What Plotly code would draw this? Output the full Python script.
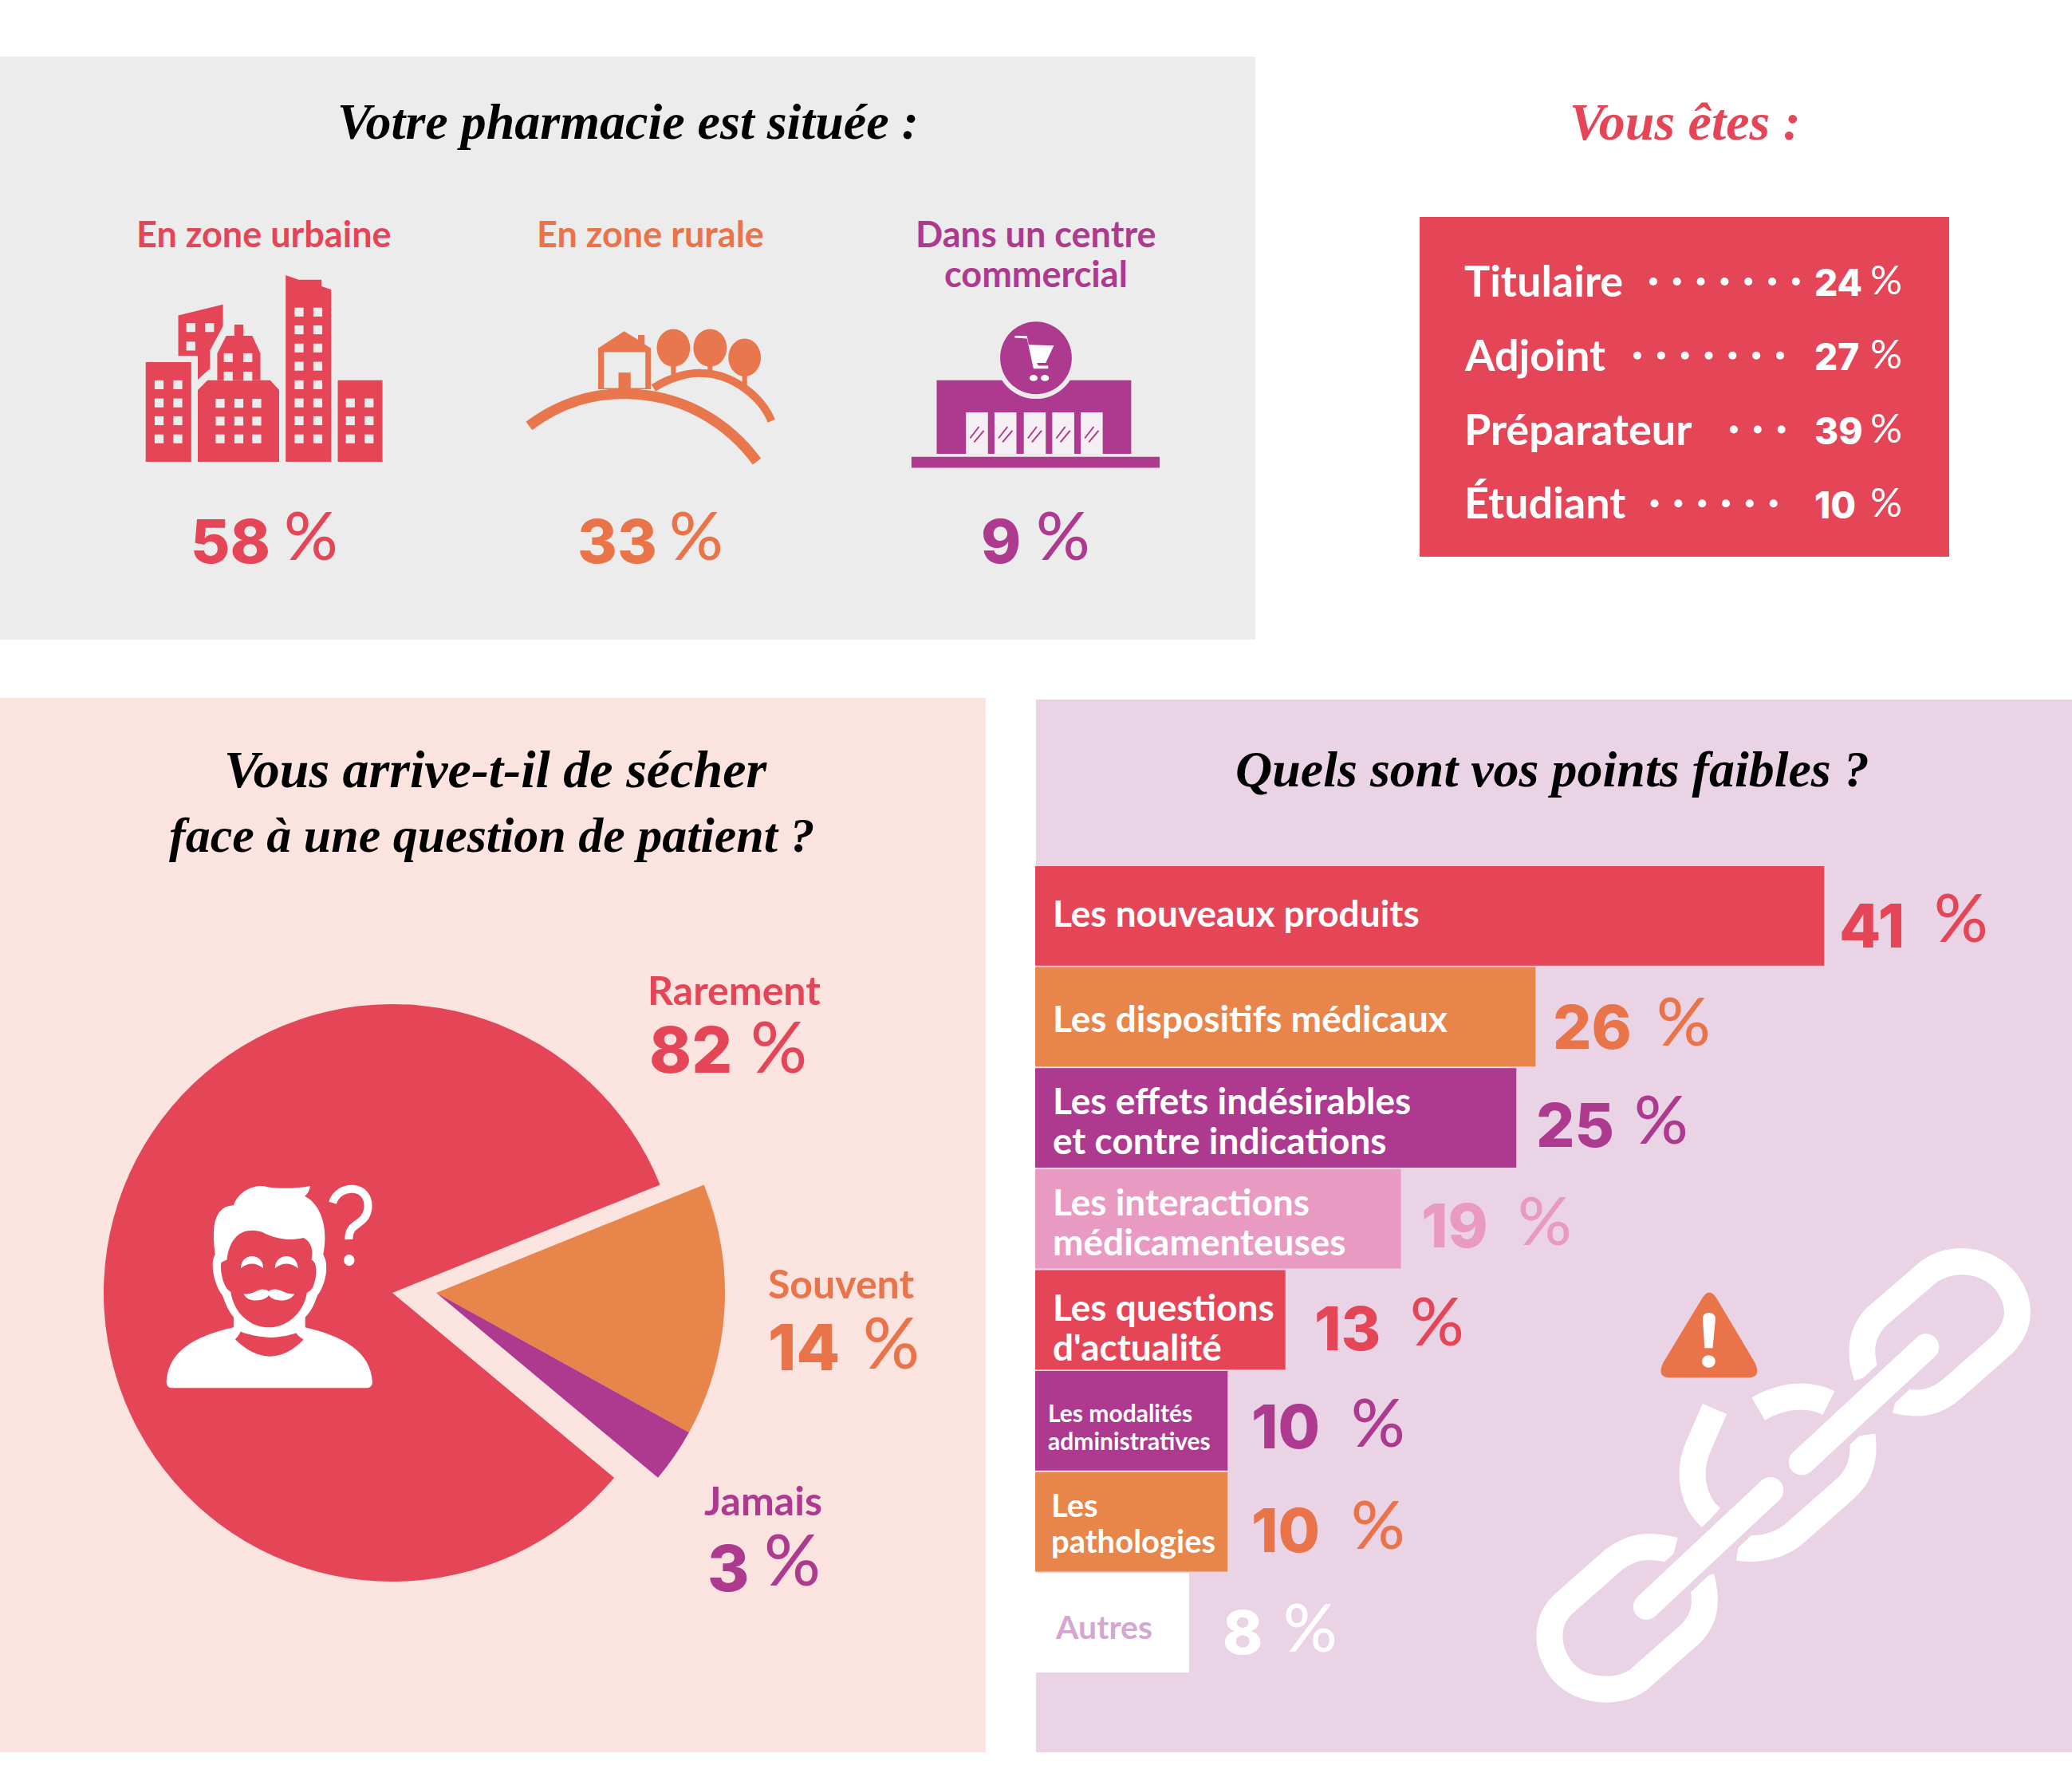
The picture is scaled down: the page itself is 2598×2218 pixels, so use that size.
import plotly.graph_objects as go

# --- data
location_names = ["En zone urbaine", "En zone rurale", "Dans un centre<br>commercial"]
location_values = [58, 33, 9]

role_names = ["Titulaire", "Adjoint", "Préparateur", "Étudiant"]
role_values = [24, 27, 39, 10]

dry_names = ["Souvent", "Jamais", "Rarement"]
dry_values = [14, 3, 82]

weak_names = ["Les nouveaux produits", "Les dispositifs médicaux",
              "Les effets indésirables<br>et contre indications",
              "Les interactions<br>médicamenteuses", "Les questions<br>d'actualité",
              "Les modalités<br>administratives", "Les<br>pathologies", "Autres"]
weak_values = [41, 26, 25, 19, 13, 10, 10, 8]

# --- colours
RED = "#e44658"
ORANGE = "#e8854b"
ORANGE_TXT = "#e9744a"
PURPLE = "#ad3a8e"
PINK = "#e89ac3"
GREY = "#ececec"
ROSE = "#fbe3df"
LILAC = "#e9d3e5"
LABEL = "Lato"
NUMBER = "Inter"
SCRIPT = "Liberation Serif"
W, H = 2598, 2218
S = 1.657  # coordinates below were measured on a 1568 px wide copy

weak_colors = [RED, ORANGE, PURPLE, PINK, RED, PURPLE, ORANGE, "white"]
weak_text = [RED, ORANGE_TXT, PURPLE, PINK, RED, PURPLE, ORANGE_TXT, "white"]
weak_label_color = ["white"] * 7 + ["#d3a7cf"]
weak_label_size = [46, 46, 46, 46, 46, 30, 40, 41]
weak_label_shift = [20, 20, 20, 20, 20, 14, 18, 23]
weak_label_dy = [2, -1, -2, -2, -5, -4, -1, -3]
weak_line_gap = [0, 0, 50, 50, 50, 35, 45, 0]
weak_gap = [10, 12, 14, 14, 21, 17, 17, 24]
weak_num_dy = [-7, -7, -5, -5, -6, -4, -6, -7]
weak_pct_gap = [82, 90, 88, 87, 93, 92, 92, 70]
weak_pct_dy = [0, -2, 0, 0, 0, 0, -1, -2]

fig = go.Figure()
shapes = []
notes = []


def rect(x0, y0, x1, y1, color, layer="above"):
    shapes.append(dict(type="rect", xref="x", yref="y", x0=x0, y0=y0, x1=x1, y1=y1,
                       fillcolor=color, line_width=0, layer=layer))


def oval(x0, y0, x1, y1, color):
    shapes.append(dict(type="circle", xref="x", yref="y", x0=x0, y0=y0, x1=x1, y1=y1,
                       fillcolor=color, line_width=0, layer="above"))


def fill(d, color):
    shapes.append(dict(type="path", xref="x", yref="y", path=d, fillcolor=color,
                       line_width=0, layer="above"))


def stroke(d, color, width):
    shapes.append(dict(type="path", xref="x", yref="y", path=d, fillcolor="rgba(0,0,0,0)",
                       line=dict(color=color, width=width), layer="above"))


def note(x, y, text, color, size, weight=700, anchor="left", family=LABEL, style="normal"):
    # left aligned text sits a little right of the measured edge because of side bearings
    x = x - 3.5 if anchor == "left" else x
    notes.append(dict(xref="x", yref="y", x=x, y=y - 1.5, text=text, showarrow=False,
                      xanchor=anchor, yanchor="middle",
                      font=dict(family=family, size=size, color=color, weight=weight, style=style)))


def path_in(points, fx, fy):
    # points is a list of SVG tokens and numbers, measured on a zoomed crop
    out, is_x = [], True
    for p in points.split():
        if p.isalpha():
            out.append(p)
            is_x = True
        else:
            out.append(f"{fx(float(p)) if is_x else fy(float(p)):.1f}")
            is_x = not is_x
    return " ".join(out)


def pct(x_num, x_pct, y_num, y_pct, value, color, num_size=76, pct_size=84):
    note(x_num * S, y_num * S, str(value), color, num_size, 800, family=NUMBER)
    note(x_pct * S, y_pct * S, "%", color, pct_size, 500)


def title(x, y, text, size, color="black"):
    note(x * S, y * S, text, color, size, 700, "center", SCRIPT, "italic")


# --- panels
rect(0, 71, 1574, 802, GREY, "below")
rect(0, 875, 1236, 2197, ROSE, "below")
rect(1299, 877, 2598, 2197, LILAC, "below")
rect(1780, 272, 2444, 698, RED, "below")

# --- titles
title(475, 93, "Votre pharmacie est située :", 64)
title(1275, 93, "Vous êtes :", 66, RED)
title(375, 583, "Vous arrive-t-il de sécher", 66)
title(372, 633, "face à une question de patient ?", 62)
title(1175, 583, "Quels sont vos points faibles ?", 64)

# --- location block
loc_colors = [RED, ORANGE_TXT, PURPLE]
loc_center = [200, 492, 784]
loc_num_x = [145, 438, 743]
loc_pct_x = [216, 507, 785]
for name, val, c, cx, nx, px in zip(location_names, location_values, loc_colors, loc_center, loc_num_x, loc_pct_x):
    for i, line in enumerate(name.split("<br>")):
        note(cx * S, (178 + 30 * i) * S, line, c, 45, 700, "center")
    pct(nx, px, 410, 405, val, c)

# city icon
zx1 = lambda v: v * 1.0204
zy1 = lambda v: 60 + v * 0.4847


def z1(d, color):
    fill(path_in(d, zx1, zy1), color)


def z1rect(x0, y0, x1, y1, color):
    rect(zx1(x0), zy1(y0), zx1(x1), zy1(y1), color)


z1("M 179 813 L 235 813 L 235 1071 L 179 1071 Z", RED)
z1("M 243 885 L 255 860 L 332 860 L 343 885 L 343 1071 L 243 1071 Z", RED)
z1("M 267 860 L 267 790 L 278 745 L 288 745 L 288 716 L 299 716 L 299 745 L 310 745 L 320 790 L 320 860 Z", RED)
z1("M 219 692 L 274 664 L 274 720 L 258 783 L 258 830 L 243 858 L 243 797 L 219 797 Z", RED)
z1("M 351 588 L 367 600 L 395 600 L 395 617 L 407 625 L 407 1071 L 351 1071 Z", RED)
z1("M 415 860 L 470 860 L 470 1071 L 415 1071 Z", RED)
city_windows = [([190, 213], [860, 907, 953, 1000]), ([265, 288, 310], [908, 954, 1000]),
                ([275, 299], [790, 838]), ([229, 252], [712]), ([229], [760]),
                ([362, 385], [672, 718, 765, 812, 860, 907, 953, 1000]), ([425, 448], [907, 953, 1000])]
for cols, rows in city_windows:
    for cx in cols:
        for ry in rows:
            z1rect(cx, ry, cx + 11, ry + 23, GREY)

# countryside icon
HILL = "#e9774d"
stroke(path_in("M 803 880 C 825 850 850 838 865 842 C 900 845 935 900 948 965", zx1, zy1), HILL, 10)
stroke(path_in("M 650 978 C 690 915 730 893 770 895 C 840 897 895 970 930 1070", zx1, zy1), HILL, 13)
z1("M 735 883 L 735 777 L 767 733 L 784 755 L 784 743 L 792 743 L 792 767 L 800 777 L 800 883 Z", HILL)
z1rect(742, 787, 793, 880, GREY)
z1rect(760, 840, 775, 883, HILL)
for x0, x1, y0, y1, base in [(807, 848, 727, 825, 845), (852, 893, 727, 825, 838), (895, 935, 752, 850, 875)]:
    oval(zx1(x0), zy1(y0), zx1(x1), zy1(y1), HILL)
    z1rect((x0 + x1) / 2 - 3, y1 - 10, (x0 + x1) / 2 + 3, base, HILL)

# store icon
z1rect(1120, 1058, 1425, 1086, PURPLE)
z1rect(1151, 860, 1390, 1050, PURPLE)
oval(zx1(1223), zy1(695), zx1(1323), zy1(908), GREY)
oval(zx1(1229), zy1(708), zx1(1317), zy1(896), PURPLE)
z1("M 1247 750 L 1262 752 L 1270 830 L 1288 830 L 1288 822 L 1276 822 L 1274 815 L 1285 815 L 1295 770 L 1264 768 L 1262 745 L 1247 745 Z", "white")
oval(zx1(1265), zy1(846), zx1(1275), zy1(862), "white")
oval(zx1(1279), zy1(846), zx1(1289), zy1(862), "white")
for x0 in [1187, 1222, 1258, 1293, 1328]:
    z1rect(x0, 943, x0 + 27, 1050, "#f5eef3")
    stroke(path_in(f"M {x0 + 5} 1010 L {x0 + 16} 980 M {x0 + 10} 1020 L {x0 + 22} 990", zx1, zy1), PURPLE, 2)

# --- role box
role_dots = [(1251, 7), (1239, 7), (1312, 3), (1252, 6)]
for i, (name, val, (dot_x, dots)) in enumerate(zip(role_names, role_values, role_dots)):
    y = (213 + 56 * i) * S
    note(1109 * S, y, name, "white", 54, 700)
    for k in range(dots):
        oval((dot_x + 18 * k) * S - 5, y - 5, (dot_x + 18 * k) * S + 5, y + 5, "white")
    note(1374 * S, y + 3, str(val), "white", 46, 800, family=NUMBER)
    note(1416 * S, y - 1, "%", "white", 50, 400)

# --- pie labels
pie_pos = [(582, 972, 582, 654, 1020, 1016), (534, 1136, 536, 579, 1187, 1180), (491, 750, 492, 569, 795, 792)]
pie_text = [ORANGE_TXT, PURPLE, RED]
for name, val, c, (lx, ly, nx, px, ny, py) in zip(dry_names, dry_values, pie_text, pie_pos):
    note(lx * S, ly * S, name, c, 50, 700)
    pct(nx, px, ny, py, val, c, 80, 88)

# person icon
zx3 = lambda v: 100 + v * 0.7015
zy3 = lambda v: 1200 + v * 0.6378


def z3(d, color):
    fill(path_in(d, zx3, zy3), color)


z3("M 155 835 C 158 775 205 745 275 728 L 290 730 C 285 745 280 748 278 752 C 300 775 320 785 340 785 C 360 785 380 775 400 752 C 390 745 385 740 385 730 L 403 728 C 470 745 520 775 523 835 Q 523 847 513 847 L 165 847 Q 155 847 155 835 Z", "white")
z3("M 275 488 C 285 455 320 445 335 452 C 360 456 390 455 412 450 C 410 460 408 465 402 470 C 430 485 445 530 435 585 C 445 600 442 640 425 665 C 420 680 415 695 403 708 L 403 728 C 395 735 385 745 340 748 C 300 745 285 735 275 730 L 275 708 C 265 695 260 680 255 665 C 240 645 232 600 242 585 C 235 530 240 490 275 488 Z", "white")
z3("M 263 595 C 268 550 290 530 325 540 C 350 555 380 558 400 552 C 415 560 418 580 414 595 C 425 600 425 625 418 645 C 415 655 410 657 406 660 C 400 700 370 728 338 728 C 305 728 275 700 270 658 C 255 650 250 610 253 600 Z", RED)
z3("M 288 612 C 288 580 328 580 328 612 C 315 600 300 600 288 612 Z", "white")
z3("M 349 612 C 349 580 390 580 390 612 C 377 600 362 600 349 612 Z", "white")
z3("M 293 662 C 315 665 320 645 338 657 C 355 645 365 665 384 662 C 375 680 345 678 338 665 C 330 678 300 680 293 662 Z", "white")
stroke(path_in("M 452 483 C 462 445 520 445 515 495 C 510 530 480 520 481 555", zx3, zy3), "white", 10)
oval(zx3(472), zy3(585), zx3(491), zy3(607), "white")

# --- broken chain and warning sign
zx4 = lambda v: 1280 + v * 0.8406
zy4 = lambda v: 1060 + v * 0.7398


def z4s(d, color, width):
    stroke(path_in(d, zx4, zy4), color, width)


LINK = 33
z4s("M 1262 900 C 1248 855 1255 825 1275 800 L 1355 722 C 1390 695 1440 700 1470 740 C 1495 780 1490 815 1465 845 L 1390 920 C 1365 945 1340 950 1305 940", "white", LINK)
z4s("M 1100 955 C 1130 935 1170 925 1205 945", "white", LINK)
z4s("M 1255 1000 C 1260 1040 1250 1070 1230 1090 L 1150 1170 C 1125 1190 1100 1195 1070 1190", "white", LINK)
z4s("M 1035 955 L 1010 1020 C 995 1060 1000 1110 1030 1140", "white", LINK)
z4s("M 1015 1240 C 1025 1285 1020 1310 1000 1335 L 920 1415 C 890 1440 830 1435 805 1395 C 780 1355 785 1310 810 1285 L 885 1210 C 915 1185 940 1185 975 1195", "white", LINK)
for bar in ["M 1350 850 L 1165 1045", "M 1118 1093 L 933 1290"]:
    z4s(bar, LILAC, 50)
for bar in ["M 1350 850 L 1165 1045", "M 1118 1093 L 933 1290"]:
    shapes.append(dict(type="path", xref="x", yref="y", path=path_in(bar, zx4, zy4), layer="above",
                       line=dict(color="white", width=LINK)))
    cap = bar.split()
    for cx, cy in [(float(cap[1]), float(cap[2])), (float(cap[4]), float(cap[5]))]:
        oval(zx4(cx) - LINK / 2, zy4(cy) - LINK / 2, zx4(cx) + LINK / 2, zy4(cy) + LINK / 2, "white")
fill(path_in("M 1015 770 Q 1027 745 1039 770 L 1095 877 Q 1105 902 1085 902 L 968 902 Q 948 902 958 877 Z", zx4, zy4), ORANGE_TXT)
fill(path_in("M 1017 803 Q 1017 792 1026 792 Q 1036 792 1036 803 L 1032 852 L 1020 852 Z", zx4, zy4), "white")
oval(zx4(1016), zy4(864), zx4(1036), zy4(885), "white")

# --- bars and their labels
fig.add_trace(go.Bar(x=weak_values, y=weak_names, orientation="h", width=0.985,
                     marker=dict(color=weak_colors, line_width=0), hoverinfo="skip",
                     xaxis="x2", yaxis="y2"))
for i, (name, val) in enumerate(zip(weak_names, weak_values)):
    lines = name.split("<br>")
    for k, line in enumerate(lines):
        dy = (len(lines) - 1) / 2 * weak_line_gap[i] - k * weak_line_gap[i] + weak_label_dy[i] * S
        notes.append(dict(xref="x2", yref="y2", x=0, y=name, text=line, showarrow=False,
                          xanchor="left", yanchor="middle", xshift=weak_label_shift[i], yshift=dy,
                          font=dict(family=LABEL, size=weak_label_size[i], color=weak_label_color[i], weight=700)))
    notes.append(dict(xref="x2", yref="y2", x=val, y=name, text=str(val), showarrow=False,
                      xanchor="left", yanchor="middle", xshift=weak_gap[i] * S, yshift=weak_num_dy[i] * S,
                      font=dict(family=NUMBER, size=76, color=weak_text[i], weight=800)))
    notes.append(dict(xref="x2", yref="y2", x=val, y=name, text="%", showarrow=False,
                      xanchor="left", yanchor="middle", xshift=weak_pct_gap[i] * S, yshift=weak_pct_dy[i] * S,
                      font=dict(family=LABEL, size=84, color=weak_text[i], weight=500)))

# --- pie: red part stays in place, orange and purple are shifted to the right
PIE_X, PIE_Y, PIE_R, PIE_SHIFT = 492, 1621, 362, 55
clear = "rgba(0,0,0,0)"
for colors, dx in [([clear, clear, RED], 0), ([ORANGE, PURPLE, clear], PIE_SHIFT)]:
    fig.add_trace(go.Pie(labels=dry_names, values=dry_values, sort=False, direction="clockwise", rotation=68,
                         marker=dict(colors=colors, line_width=0), textinfo="none", hoverinfo="skip",
                         domain=dict(x=[(PIE_X + dx - PIE_R) / W, (PIE_X + dx + PIE_R) / W],
                                     y=[1 - (PIE_Y + PIE_R) / H, 1 - (PIE_Y - PIE_R) / H])))

fig.update_layout(
    width=W, height=H, margin=dict(l=0, r=0, t=0, b=0),
    paper_bgcolor="white", plot_bgcolor="rgba(0,0,0,0)", showlegend=False,
    # pixel axes for icons and text
    xaxis=dict(domain=[0, 1], range=[0, W], visible=False, fixedrange=True),
    yaxis=dict(domain=[0, 1], range=[H, 0], visible=False, fixedrange=True),
    # bars
    xaxis2=dict(domain=[1298 / W, 1], range=[0, (W - 1298) / 24.13], visible=False, anchor="y2", fixedrange=True),
    yaxis2=dict(domain=[1 - 2098 / H, 1 - 1085 / H], type="category", range=[7.5, -0.5], visible=False,
                anchor="x2", fixedrange=True),
    shapes=shapes, annotations=notes,
)

# the page's default body margin would push the chart off its origin
fig.write_html("out.html", config=dict(displayModeBar=False), post_script="document.body.style.margin='0';")
